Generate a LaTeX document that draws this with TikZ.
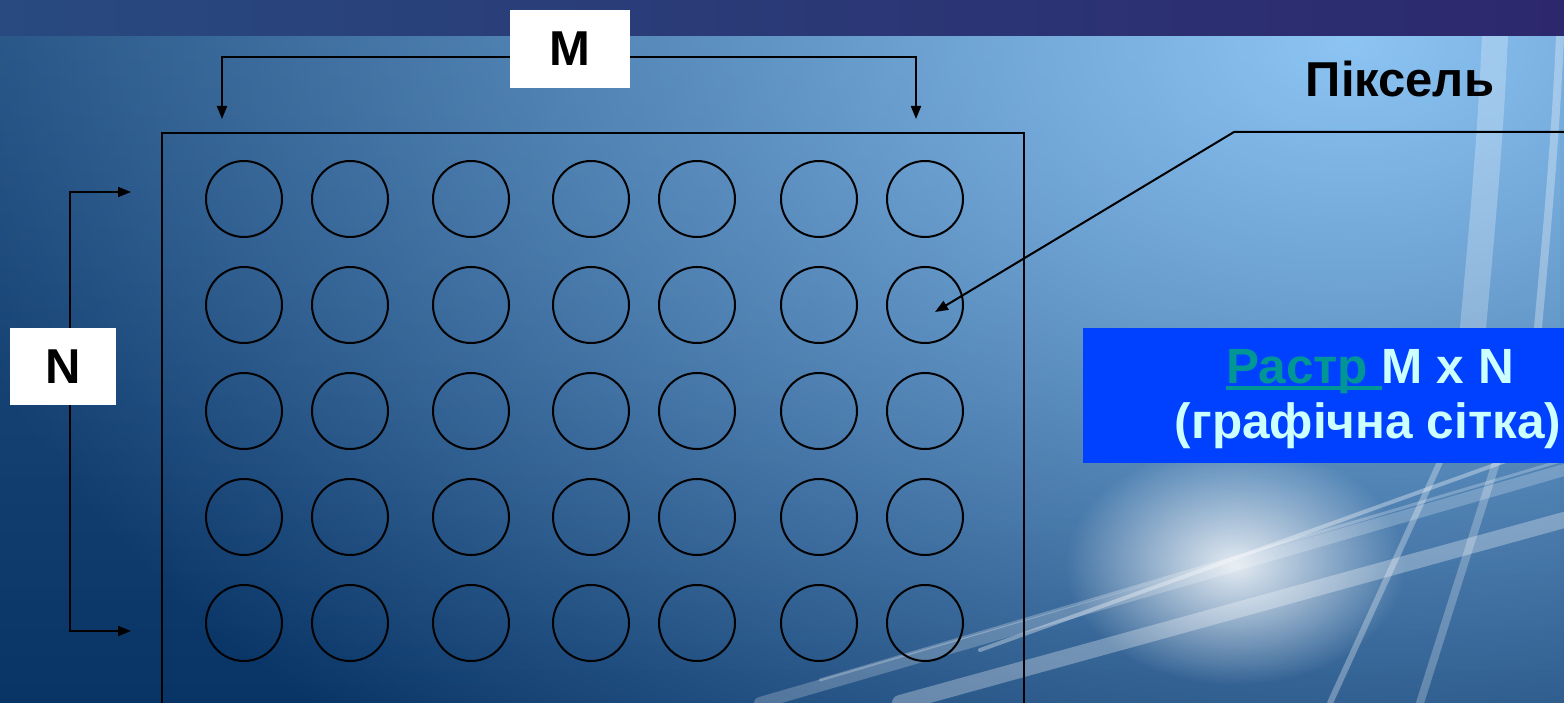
\documentclass[tikz,border=0pt]{standalone}
\usepackage{fontspec}
\setmainfont{Liberation Sans}
\usetikzlibrary{arrows.meta,fadings}
\definecolor{bgdark}{RGB}{9,52,102}
\definecolor{bglight}{RGB}{140,196,244}
\definecolor{banl}{RGB}{40,74,128}
\definecolor{banr}{RGB}{45,40,110}
\definecolor{boxblue}{RGB}{0,64,255}
\definecolor{tealtxt}{RGB}{0,150,150}
\definecolor{cyantxt}{RGB}{204,255,255}
\tikzfading[name=myglow, inner color=transparent!0, outer color=transparent!100]
\tikzfading[name=topfade, top color=transparent!0, bottom color=transparent!100]
\newcommand\myul[1]{\setbox0\hbox{#1}\rlap{\rule[-7pt]{\wd0}{4pt}}\box0}
\begin{document}
\begin{tikzpicture}[x=1pt,y=-1pt,
  lbl/.style={fill=white, inner sep=0pt, font=\bfseries\fontsize{49}{58}\selectfont},
  pix/.style={circle, draw=black, line width=2pt, minimum size=76pt, inner sep=0pt},
  frame/.style={draw=black, line width=2pt, inner sep=0pt, anchor=north west},
  conn/.style={draw=black, line width=2pt, -{Triangle[length=13pt,width=10pt]}},
  bigtxt/.style={font=\bfseries\fontsize{49.5}{55}\selectfont, anchor=base, inner sep=0pt},
  streak/.style={white, line cap=round}]
\useasboundingbox (0,0) rectangle (1564,703);
\begin{scope}
\clip (0,0) rectangle (1564,703);
% background
\fill[bgdark] (0,0) rectangle (1564,703);
\shade[inner color=bglight, outer color=bgdark] (1350,40) ellipse [x radius=1450, y radius=950];
\fill[bglight, fill opacity=0.2, path fading=topfade] (0,0) rectangle (1564,703);
% light streaks
\fill[white, path fading=myglow, fill opacity=0.85] (1235,565) ellipse [x radius=170, y radius=120];
\draw[streak, opacity=0.22, line width=12pt] (760,703) -- (1564,470);
\draw[streak, opacity=0.3, line width=16pt] (900,703) -- (1564,520);
\draw[streak, opacity=0.35, line width=4pt] (980,650) -- (1564,440);
\draw[streak, opacity=0.25, line width=3pt] (820,680) -- (1564,460);
\draw[streak, opacity=0.3, line width=6pt] (1330,703) -- (1450,440);
\draw[streak, opacity=0.25, line width=8pt] (1420,703) -- (1500,450);
\draw[streak, opacity=0.25, line width=26pt] (1470,360) .. controls (1480,250) and (1490,150) .. (1495,36);
\draw[streak, opacity=0.3, line width=8pt] (1535,360) .. controls (1545,250) and (1555,150) .. (1560,36);
% top band
\shade[left color=banl, right color=banr] (0,0) rectangle (1564,36);
% grid frame
\node[frame, minimum width=862pt, minimum height=620pt] (grid) at (161,132) {};
\end{scope}
% pixels
\foreach \r/\yy in {1/199,2/305,3/411,4/517,5/623}
  \foreach \c/\xx in {1/244,2/350,3/471,4/591,5/697,6/819,7/925}
    \node[pix] (c-\r-\c) at (\xx,\yy) {};
% M and N labels
\node[lbl, minimum width=120pt, minimum height=78pt] (Mb) at (570,49) {M};
\node[lbl, minimum width=106pt, minimum height=77pt] (Nb) at (63,366.5) {N};
\coordinate (mL) at (222,119);
\coordinate (mR) at (916,119);
\coordinate (nT) at (131,192);
\coordinate (nB) at (131,631);
\draw[conn] ([yshift=-8pt]Mb.west) -| (mL);
\draw[conn] ([yshift=-8pt]Mb.east) -| (mR);
\draw[conn] ([xshift=7pt]Nb.north) |- (nT);
\draw[conn] ([xshift=7pt]Nb.south) |- (nB);
% pixel label
\node[font=\bfseries\fontsize{49}{58}\selectfont, anchor=base, inner sep=0pt] (pl) at (1400,97) {Піксель};
\coordinate (pR) at (1570,132);
\coordinate (pK) at (1234,132);
\coordinate (pT) at (935,312);
\draw[conn] (pR) -- (pK) -- (pT);
% raster box
\node[fill=boxblue, inner sep=0pt, anchor=north west, minimum width=490pt, minimum height=135pt] (rb) at (1083,328) {};
\node[bigtxt] (rt1) at (1370,383) {\textcolor{tealtxt}{\myul{Растр }}\textcolor{cyantxt}{M x N}};
\node[bigtxt, text=cyantxt] (rt2) at (1368,438) {(графічна сітка)};
\end{tikzpicture}
\end{document}
